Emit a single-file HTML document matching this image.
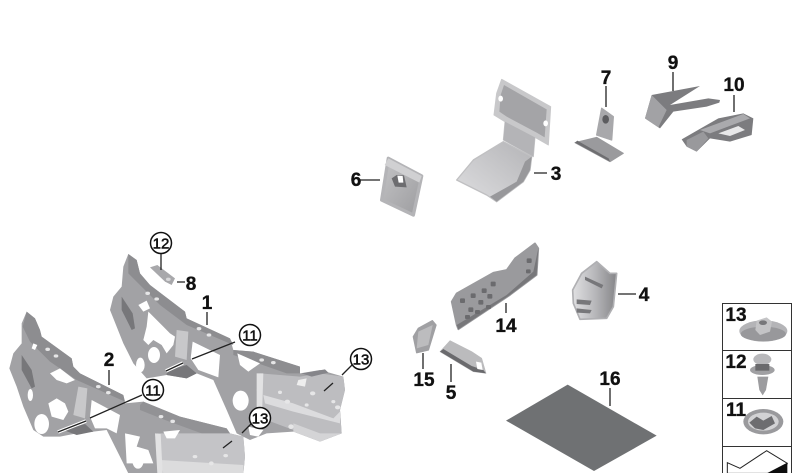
<!DOCTYPE html>
<html><head><meta charset="utf-8"><style>
html,body{margin:0;padding:0;background:#fff}
svg{display:block}
text{font-family:"Liberation Sans",sans-serif;font-weight:700;fill:#111;text-anchor:middle;stroke:#111;stroke-width:.35}
.l{font-size:19px}
.c{font-size:15px;font-weight:400;stroke-width:.55}
.k{stroke:#222;stroke-width:1.3;fill:none}
</style></head><body>
<svg width="800" height="473" viewBox="0 0 800 473" xmlns="http://www.w3.org/2000/svg">
<defs>
<filter id="t" x="-5%" y="-5%" width="110%" height="110%"><feGaussianBlur stdDeviation=".5"/></filter>
<linearGradient id="g3" x1="0" y1="1" x2="1" y2="0"><stop offset="0" stop-color="#dedee0"/><stop offset="1" stop-color="#b4b4b7"/></linearGradient>
<linearGradient id="g4" x1="0" y1="0" x2="1" y2="0"><stop offset="0" stop-color="#e0e0e2"/><stop offset=".5" stop-color="#b8b8bb"/><stop offset="1" stop-color="#858588"/></linearGradient>
<linearGradient id="g6" x1="0" y1="0" x2="1" y2="1"><stop offset="0" stop-color="#c4c4c6"/><stop offset="1" stop-color="#9c9c9f"/></linearGradient>
</defs>

<!-- upper bulkhead (1) -->
<g transform="translate(0,230) scale(.33333)">
<g filter="url(#t)">
<path d="M385 72L410 90 420 130 450 165 555 245 560 265 690 325 700 360 760 365 900 410 900 430 960 420 1030 440 1035 480 1020 540 1025 610 960 635 880 605 800 610 750 630 710 610 680 540 640 450 590 430 560 445 500 435 440 445 400 400 370 340 330 240 340 200 365 170 370 110Z" fill="#a2a2a5"/>
<path d="M385 72L410 90 420 130 450 165 555 245 560 265 690 325 700 345 560 285 480 225 430 175 385 130Z" fill="#8d8d90"/>
<path d="M700 360L760 365 900 410 900 430 860 430 760 395 700 375Z" fill="#8d8d90"/>
<path d="M780 430L900 440 960 430 1030 440 1035 480 1020 540 1025 610 960 635 880 600 800 570 770 480Z" fill="#bdbdc0"/>
<path d="M790 495L880 520 1000 565 1020 545 1020 580 880 545 795 520Z" fill="#dcdcde"/>
<path d="M880 580L960 610 1025 610 960 635 880 605Z" fill="#d4d4d6"/>
<path d="M365 200L398 250 405 295 395 300 365 240Z" fill="#77777a"/>
<path d="M530 300L565 305 560 390 525 380Z" fill="#c8c8ca"/>
<path d="M500 422L560 405 590 430 560 445 500 435Z" fill="#77777a"/>
<path d="M905 430L975 418 985 428 935 440Z" fill="#85858a"/>
<path d="M770 430L790 430 785 590 770 590Z" fill="#e2e2e3"/>
</g>
<g fill="#fff" filter="url(#t)">
<path d="M415 225L440 212 450 235 430 245Z"/>
<path d="M445 245L490 290 510 310 525 320 520 345 500 370 485 345 460 330 445 345 430 330 440 290Z"/>
<ellipse cx="462" cy="375" rx="18" ry="24"/>
<ellipse cx="421" cy="405" rx="13" ry="22"/>
<path d="M578 335L660 375 655 442 595 420 572 385Z"/>
<ellipse cx="722" cy="512" rx="24" ry="30"/>
<path d="M712 370L780 400 745 425 720 405Z"/>
<path d="M745 590L790 600 775 620 750 615Z"/>
<path d="M895 450L920 445 915 470 890 465Z" fill="#eee"/>
</g>
<g fill="#e6e6e7"><ellipse cx="443" cy="190" rx="7" ry="5"/><ellipse cx="470" cy="207" rx="7" ry="5"/><ellipse cx="597" cy="296" rx="7" ry="5"/><ellipse cx="627" cy="315" rx="7" ry="5"/><ellipse cx="785" cy="390" rx="7" ry="5"/><ellipse cx="820" cy="398" rx="7" ry="5"/><ellipse cx="840" cy="487" rx="6" ry="5"/><ellipse cx="938" cy="490" rx="8" ry="6"/><ellipse cx="862" cy="515" rx="8" ry="6"/><ellipse cx="920" cy="525" rx="6" ry="5"/><ellipse cx="1000" cy="515" rx="6" ry="5"/><ellipse cx="1013" cy="532" rx="8" ry="6"/><ellipse cx="873" cy="590" rx="8" ry="7"/></g>
</g>

<!-- lower bulkhead (2) -->
<g transform="translate(0,230) scale(.33333)">
<g filter="url(#t)">
<path d="M80 245L105 265 120 300 125 320 215 385 220 410 240 430 370 495 375 520 430 515 540 560 680 595 690 610 730 620 735 680 730 730 385 730 340 640 320 600 280 605 230 610 180 620 130 620 100 600 70 530 50 470 28 415 40 370 65 340 65 280Z" fill="#a2a2a5"/>
<path d="M80 245L105 265 120 300 125 320 215 385 220 410 240 430 370 495 375 515 230 450 150 395 90 335 68 290Z" fill="#8d8d90"/>
<path d="M420 525L430 515 540 560 680 595 690 610 610 612 500 572 420 540Z" fill="#929295"/>
<path d="M470 610L690 610 730 620 735 680 730 730 480 730Z" fill="#c4c4c7"/>
<path d="M480 690L730 705 730 730 490 730Z" fill="#dcdcdd"/>
<path d="M65 375L95 420 105 470 95 475 65 420Z" fill="#77777a"/>
<path d="M235 470L262 475 255 565 220 555Z" fill="#c8c8ca"/>
<path d="M190 600L255 582 280 605 230 615Z" fill="#77777a"/>
<path d="M465 610L482 612 488 730 472 730Z" fill="#e2e2e3"/>
</g>
<g fill="#fff" filter="url(#t)">
<path d="M150 430L180 415 225 450 200 460 170 450Z"/>
<path d="M145 520L170 505 195 520 205 545 190 570 155 560Z"/>
<ellipse cx="125" cy="582" rx="22" ry="30"/>
<ellipse cx="91" cy="495" rx="8" ry="18"/>
<path d="M275 510L360 555 350 610 320 595 285 595 270 560Z"/>
<path d="M100 340L112 345 105 360 95 355Z"/>
<path d="M375 610L420 620 410 650 445 660 460 700 380 700Z"/>
<ellipse cx="414" cy="692" rx="17" ry="24"/>
<path d="M490 605L540 600 525 625 500 625Z"/>
</g>
<g fill="#e6e6e7"><ellipse cx="143" cy="358" rx="7" ry="5"/><ellipse cx="168" cy="378" rx="7" ry="5"/><ellipse cx="295" cy="470" rx="7" ry="5"/><ellipse cx="325" cy="488" rx="7" ry="5"/><ellipse cx="483" cy="560" rx="7" ry="5"/><ellipse cx="518" cy="574" rx="7" ry="5"/><ellipse cx="585" cy="680" rx="7" ry="5"/><ellipse cx="634" cy="700" rx="7" ry="6"/><ellipse cx="677" cy="677" rx="7" ry="5"/></g>
</g>

<!-- part 8 -->
<g transform="translate(0,230) scale(.33333)" filter="url(#t)">
<path d="M450 112L472 105 525 145 515 165 495 155Z" fill="#a8a8ab"/>
<ellipse cx="505" cy="148" rx="7" ry="5" fill="#d8d8da"/>
</g>

<!-- parts 3,6,7 -->
<g transform="translate(340,50) scale(.33333)">
<g filter="url(#t)" stroke-linejoin="round">
<path d="M485 88L632 170 625 285 585 262 580 320 490 270 495 215 462 195 470 130Z" fill="#c8c8ca" stroke="#c8c8ca" stroke-width="3"/>
<path d="M492 105L620 178 614 262 590 248 500 200 478 185 482 135Z" fill="#a4a4a7"/>
<path d="M495 215L585 262 580 320 490 270Z" fill="#b4b4b7"/>
<ellipse cx="482" cy="146" rx="7" ry="9" fill="#fff"/>
<ellipse cx="617" cy="220" rx="7" ry="9" fill="#fff"/>
<path d="M490 275L575 320 570 360 550 395 470 455 440 435 350 390 400 330Z" fill="url(#g3)" stroke="#c0c0c2" stroke-width="4"/>
<path d="M555 335L575 320 570 360 550 395 470 455 450 440 530 395Z" fill="#98989b"/>
<path d="M145 325L245 378 220 495 125 450Z" fill="url(#g6)" stroke="#b4b4b7" stroke-width="10"/>
<path d="M145 325L245 378 238 398 134 345Z" fill="#d0d0d2"/>
<path d="M155 385L170 375 192 376 200 412 165 410Z" fill="#6d6d70"/>
<path d="M172 377L188 378 190 398 176 398Z" fill="#fff"/>
<path d="M785 175L820 200 815 270 770 255Z" fill="#a8a8ab" stroke="#a8a8ab" stroke-width="4"/>
<ellipse cx="797" cy="208" rx="10" ry="13" fill="#5c5c5f"/>
<path d="M705 278L770 262 850 310 810 335Z" fill="#9a9a9d" stroke="#9a9a9d" stroke-width="3"/>
<path d="M705 278L810 335 806 325 712 272Z" fill="#6e6e71"/>
</g>
</g>

<!-- parts 9,10 -->
<g transform="translate(560,50) scale(.33333)" filter="url(#t)">
<path d="M275 135L420 108 330 165 445 145 480 150 478 158 440 170 340 185 300 235 255 205Z" fill="#7c7c7f"/>
<path d="M275 135L320 180 295 232 255 205Z" fill="#a2a2a5"/>
<path d="M365 268L475 205 550 190 580 205 575 255 510 275 450 265 410 305 380 290Z" fill="#7c7c7f"/>
<path d="M420 240L550 192 570 205 450 250Z" fill="#aaaaad"/>
<path d="M475 250L535 228 555 240 510 258Z" fill="#e8e8e9"/>
<path d="M380 270L430 245 445 265 410 305 380 290Z" fill="#99999c"/>
</g>

<!-- parts 14,4,15,5,16 -->
<g transform="translate(400,230) scale(.33333)">
<g filter="url(#t)" stroke-linejoin="round">
<path d="M405 40L415 55 410 135 330 195 175 298 170 285 155 215 170 190 280 128 320 120 345 85Z" fill="#9a9a9d" stroke="#9a9a9d" stroke-width="5"/>
<path d="M415 55L410 135 330 195 175 298 170 285 320 195 400 125Z" fill="#77777a"/>
<path d="M590 95L630 130 650 130 640 230 620 265 540 268 520 220 518 180 545 130Z" fill="url(#g4)" stroke="#b0b0b3" stroke-width="5"/>
<path d="M530 208L575 212 570 225 530 222ZM555 140L610 165 605 175 555 150ZM530 235L575 240 570 250 530 248Z" fill="#77777a"/>
<path d="M97 272L108 285 85 360 50 368 40 320 55 295Z" fill="#a0a0a3" stroke="#a0a0a3" stroke-width="4"/>
<path d="M55 305L98 285 85 345 50 355Z" fill="#bcbcbe"/>
<path d="M150 332L215 365 245 385 258 430 220 425 120 365Z" fill="#bbbbbd" stroke="#bbbbbd" stroke-width="2"/>
<path d="M120 365L220 425 258 430 250 420 215 408 130 357Z" fill="#6a6a6d"/>
<path d="M228 395L244 398 248 420 232 417Z" fill="#fff"/>
</g>
<g fill="#6b6b6e"><rect x="180" y="205" width="15" height="14" rx="3"/><rect x="212" y="190" width="15" height="14" rx="3"/><rect x="245" y="175" width="15" height="14" rx="3"/><rect x="272" y="155" width="15" height="14" rx="3"/><rect x="205" y="232" width="15" height="14" rx="3"/><rect x="235" y="210" width="15" height="14" rx="3"/><rect x="262" y="192" width="15" height="14" rx="3"/><rect x="195" y="255" width="15" height="12" rx="3"/><rect x="225" y="240" width="15" height="12" rx="3"/><rect x="258" y="225" width="15" height="12" rx="3"/><rect x="380" y="85" width="15" height="14" rx="3"/><rect x="378" y="118" width="14" height="12" rx="3"/></g>
<path d="M503 464L770 617 582 723 318 572Z" fill="#6f7173"/>
</g>

<!-- leader lines -->
<path d="M183 363L166 371M86 421L58 432" stroke="#fff" stroke-width="3.500" fill="none"/>
<g class="k">
<path d="M161 253V270M177 282H185M207 312V325M109 370V385M235 342L192 359M183 363L166 371M142 395L90 418M86 421L58 432"/>
<path d="M352 365L342 375M333 383L324 391M253 422L242 433M232 441L223 448M380 180H360M534 173H547M606 86V107M673 72V91M734 95V112M618 294H636M506 313V303M423 353V369M451 364V382M610 388V406"/>
</g>

<!-- right panel -->
<g>
<rect x="722.500" y="303.500" width="69" height="180" fill="#fff" stroke="#333" stroke-width="1"/>
<path d="M722 350.500H792M722 398.500H792M722 446.500H792" stroke="#333" stroke-width="1"/>
<g transform="translate(700,290) scale(.33333)" filter="url(#t)">
<ellipse cx="190" cy="123" rx="72" ry="32" fill="#b4b4b7"/>
<ellipse cx="190" cy="132" rx="68" ry="22" fill="#98989b"/>
<path d="M170 92L200 82 216 95 210 125 180 135 166 120Z" fill="#c4c4c6"/>
<ellipse cx="189" cy="98" rx="12" ry="7" fill="#77777a"/>
<ellipse cx="187" cy="208" rx="27" ry="17" fill="#b8b8bb"/>
<ellipse cx="187" cy="240" rx="37" ry="15" fill="#a0a0a3"/>
<rect x="166" y="222" width="42" height="20" fill="#6a6a6d"/>
<path d="M172 260L205 260 198 300 188 316 178 300Z" fill="#9c9c9f"/>
<ellipse cx="190" cy="395" rx="60" ry="38" fill="#9a9a9d"/>
<ellipse cx="190" cy="395" rx="46" ry="27" fill="#d2d2d4"/>
<path d="M148 398L170 380 190 392 215 378 225 400 190 420 165 415Z" fill="#6d6d70"/>
<path d="M82 518L120 535 200 482 262 520 250 550H82Z" fill="#fff" stroke="#222" stroke-width="3"/>
<path d="M200 550L262 518 262 550Z" fill="#111"/>
</g>
<text class="l" x="736" y="321">13</text>
<text class="l" x="736" y="368">12</text>
<text class="l" x="736" y="416">11</text>
</g>

<!-- circled labels -->
<g fill="#fff" stroke="#111" stroke-width="1.500">
<circle cx="161" cy="243" r="10.500"/>
<circle cx="250" cy="335" r="10.500"/>
<circle cx="153" cy="390" r="10.500"/>
<circle cx="361" cy="359" r="10.500"/>
<circle cx="260" cy="418" r="10.500"/>
</g>
<text class="c" x="161" y="248.500">12</text>
<text class="c" x="250" y="340.500">11</text>
<text class="c" x="153" y="395.500">11</text>
<text class="c" x="361" y="364.500">13</text>
<text class="c" x="260" y="423.500">13</text>

<!-- number labels -->
<text class="l" x="191" y="290">8</text>
<text class="l" x="207" y="309">1</text>
<text class="l" x="109" y="366">2</text>
<text class="l" x="356" y="186">6</text>
<text class="l" x="556" y="180">3</text>
<text class="l" x="606" y="84">7</text>
<text class="l" x="673" y="69">9</text>
<text class="l" x="734" y="91">10</text>
<text class="l" x="644" y="301">4</text>
<text class="l" x="506" y="332">14</text>
<text class="l" x="424" y="386">15</text>
<text class="l" x="451" y="399">5</text>
<text class="l" x="610" y="385">16</text>
</svg>
</body></html>
